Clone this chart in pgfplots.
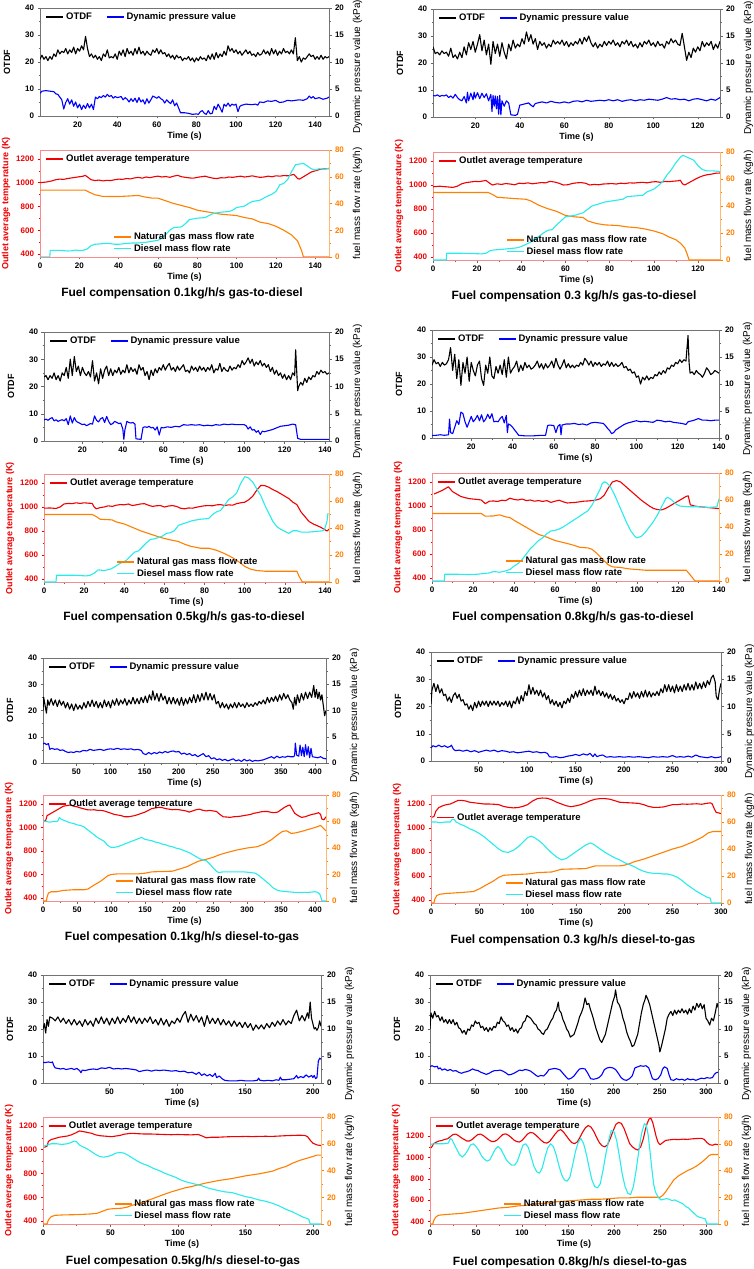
\documentclass[border=0pt]{standalone}
\usepackage{fontspec}
\setmainfont{Liberation Sans}
\usepackage{pgfplots}
\pgfplotsset{compat=1.18}

\definecolor{tred}{RGB}{240,0,0}
\definecolor{tor}{RGB}{255,128,0}
\definecolor{tcy}{RGB}{40,235,235}
\definecolor{tbl}{RGB}{0,0,255}

\pgfplotsset{
  every axis/.append style={
    scale only axis,
    scaled ticks=false,
    /pgf/number format/assume math mode=true,
    /pgf/number format/1000 sep={},
    tick label style={font=\bfseries\fontsize{8}{9}\selectfont},
    label style={font=\bfseries\fontsize{9}{10}\selectfont},
    axis line style={draw=black!55, line width=0.6pt},
    tick align=outside,
    major tick length=2.5pt,
    minor tick length=1.5pt,
    tick style={draw=black!60, line width=0.5pt},
    minor x tick num=1,
    minor y tick num=1,
    xlabel style={yshift=3pt},
    legend cell align=left,
    legend style={draw=none, fill=none, inner sep=1pt, row sep=-1pt,
      font=\bfseries\fontsize{9.5}{10}\selectfont},
    legend image code/.code={\draw[#1, line width=1.6pt] (0pt,0pt) -- (17pt,0pt);},
    every axis plot/.append style={line width=1.1pt, line join=round, mark=none},
  },
  topL/.style={ymin=0, ymax=40, ytick={0,10,...,40}, xtick pos=left, ytick pos=left,
    xlabel={Time (s)}, ylabel={OTDF}, ylabel shift=8pt},
  topR/.style={ymin=0, ymax=20, ytick={0,5,...,20}, axis y line*=right, axis x line=none,
    ylabel={Dynamic pressure value (kPa)}, ylabel near ticks, ylabel shift=2pt,
    ylabel style={xshift=-5pt},
    legend columns=2,
    legend style={at={(0.015,0.985)}, anchor=north west,
      /tikz/every even column/.append style={column sep=12pt}}},
  botL/.style={ymin=375, ymax=1275, ytick={400,600,...,1200}, xtick pos=left, ytick pos=left,
    xlabel={Time (s)}, ylabel={Outlet average temperature (K)}, ylabel shift=-1pt,
    y axis line style={draw=tred!45}, yticklabel style={text=tred},
    ylabel style={text=tred}, ytick style={draw=tred},
    legend style={at={(0.015,0.985)}, anchor=north west}},
  botR/.style={ymin=0, ymax=80, ytick={0,20,...,80}, axis y line*=right, axis x line=none,
    ylabel={fuel mass flow rate (kg/h)}, ylabel near ticks, ylabel shift=2pt,
    y axis line style={draw=tor!55}, yticklabel style={text=tor}, ytick style={draw=tor},
    legend style={at={(0.25,0.01)}, anchor=south west}},
}

\begin{document}
\begin{tikzpicture}
\useasboundingbox (0,0) rectangle (754pt,-1269pt);

% ================= A: 0.1 gas-to-diesel =================
\begin{axis}[topL, at={(40pt,-8pt)}, anchor=north west, width=289pt, height=108pt,
  xmin=1, xmax=147, xtick={20,40,...,140}]
\addplot[black] coordinates {(1,21)(2,22.5)(3,21)(4,22)(5,20.5)(6,22)(7,21)(8,23)(9,22)(10,24.5)(11,23)(12,24)(13,23.5)(14,25)(15,23)(16,24.5)(17,23.5)(18,25.5)(19,23)(20,25)(21,24)(22,26)(23,24.5)(24,29.5)(25,25)(26,22)(27,23)(28,21.5)(29,22.5)(30,21)(31,22)(32,20.5)(33,23)(34,22)(35,24.5)(36,21.5)(37,22)(38,21.5)(39,23)(40,21)(41,24)(42,22.5)(43,24.5)(44,22)(45,25)(46,23)(47,24)(48,22.5)(49,25)(50,23)(51,25.5)(52,23)(53,24)(54,22.5)(55,24)(56,23)(57,22.5)(58,24.5)(59,23.5)(60,25)(61,23)(62,24.5)(63,23)(64,23.5)(65,22)(66,23)(67,21.5)(68,22.5)(69,21)(70,22.5)(71,21.5)(72,22)(73,20.5)(74,21.5)(75,21)(76,22)(77,20.5)(78,21.5)(79,20)(80,21.5)(81,20.5)(82,22)(83,21)(84,21.5)(85,20.5)(86,22.5)(87,21)(88,23)(89,21)(90,23.5)(91,21.5)(92,23)(93,22)(94,24)(95,22.5)(96,26)(97,24)(98,25)(99,23.5)(100,24.5)(101,23)(102,24)(103,22.5)(104,23.5)(105,24.5)(106,23)(107,24)(108,22.5)(109,23)(110,22)(111,23.5)(112,22.5)(113,23)(114,24.5)(115,23)(116,24)(117,22.5)(118,25)(119,23)(120,24.5)(121,22.5)(122,24)(123,23)(124,25)(125,23.5)(126,24)(127,23)(128,24.5)(129,23)(130,29)(131,20.5)(132,22)(133,20)(134,21.5)(135,21)(136,22)(137,23)(138,22)(139,22.5)(140,21)(141,22)(142,21)(143,22.5)(144,21)(145,22)(146,21.5)(147,22)};
\end{axis}
\begin{axis}[topR, at={(40pt,-8pt)}, anchor=north west, width=289pt, height=108pt,
  xmin=1, xmax=147]
\addlegendimage{black}\addlegendentry{OTDF}
\addplot[tbl] coordinates {(1,4.2)(2,4.6)(4,4.7)(6,4.6)(8,4.5)(9,4.1)(10,4.0)(11,3.5)(12,3.0)(13,1.3)(14,2.5)(15,3.2)(16,2.2)(17,3.0)(18,1.8)(19,2.6)(20,1.5)(21,2.2)(22,1.2)(23,2.0)(24,1.4)(25,2.3)(26,1.5)(27,2.2)(28,1.2)(29,3.5)(30,3.2)(31,3.6)(32,3.4)(33,3.8)(34,3.5)(35,4.0)(36,3.6)(37,3.8)(38,3.3)(39,3.6)(40,3.4)(42,3.6)(43,3.0)(44,3.4)(45,3.1)(46,2.6)(47,3.2)(48,2.7)(49,3.3)(50,2.5)(51,3.4)(52,2.6)(53,3.0)(54,2.2)(55,3.2)(56,2.4)(57,3.0)(58,3.7)(59,3.5)(60,3.3)(61,3.6)(62,3.2)(63,3.0)(64,2.4)(65,3.0)(66,2.6)(67,2.3)(68,3.0)(69,1.9)(70,2.4)(71,1.5)(72,0.6)(74,0.6)(76,0.5)(78,0.3)(80,0.4)(81,0.3)(82,0.8)(83,1.0)(84,0.5)(85,0.3)(86,1.0)(87,0.4)(88,0.5)(89,1.8)(90,1.2)(91,2.2)(92,1.5)(93,0.7)(94,2.2)(95,1.8)(96,2.4)(97,1.8)(98,2.2)(99,2.0)(100,2.2)(101,0.8)(102,1.8)(103,2.0)(105,2.2)(108,2.1)(110,2.2)(111,2.0)(112,2.6)(114,2.5)(116,2.8)(118,2.7)(120,2.9)(122,2.5)(124,2.6)(126,2.9)(128,2.8)(130,2.9)(132,3.0)(134,2.9)(136,3.2)(137,3.7)(138,3.3)(139,3.6)(140,3.2)(142,3.4)(144,3.1)(146,3.3)(147,3.5)};
\addlegendentry{Dynamic pressure value}
\end{axis}
\begin{axis}[botL, at={(40pt,-150pt)}, anchor=north west, width=289pt, height=107pt,
  xmin=0, xmax=147, xtick={0,20,...,140}]
\addplot[tred] coordinates {(0,1000)(3,1005)(6,1015)(8,1025)(10,1030)(12,1028)(14,1035)(16,1040)(18,1045)(20,1050)(22,1055)(23,1062)(24,1050)(26,1025)(28,1018)(30,1022)(32,1015)(34,1020)(36,1018)(38,1025)(40,1030)(42,1028)(44,1035)(46,1032)(48,1040)(50,1045)(52,1038)(54,1048)(56,1042)(58,1050)(60,1055)(62,1048)(64,1052)(66,1045)(68,1055)(70,1062)(72,1050)(74,1045)(76,1040)(78,1038)(80,1045)(82,1050)(84,1055)(86,1045)(88,1038)(90,1035)(92,1042)(94,1040)(96,1048)(98,1045)(100,1050)(102,1055)(104,1048)(106,1052)(108,1058)(110,1050)(112,1045)(114,1048)(116,1055)(118,1050)(120,1058)(122,1055)(124,1060)(126,1058)(128,1065)(129,1070)(130,1055)(131,1035)(132,1030)(134,1050)(136,1070)(138,1090)(140,1100)(142,1110)(144,1115)(146,1118)(147,1120)};
\addlegendentry{Outlet average temperature}
\end{axis}
\begin{axis}[botR, at={(40pt,-150pt)}, anchor=north west, width=289pt, height=107pt,
  xmin=0, xmax=147]
\addplot[tor] coordinates {(0,50)(23,50)(25,48.5)(28,46.5)(32,45.3)(40,45.2)(45,45.6)(50,46)(53,45)(57,44)(60,44)(64,42)(68,40)(72,38.5)(76,37)(80,35)(84,34)(88,33)(92,32)(96,31.5)(100,31)(104,29.5)(108,28.5)(112,26)(116,25)(120,23)(124,20)(128,16.5)(131,12)(133,5)(134,0)(147,0)};
\addlegendentry{Natural gas mass flow rate}
\addplot[tcy] coordinates {(0,0)(5,0)(5.2,5)(10,5)(14,4.5)(16,4.6)(18,5.2)(20,4.8)(22,5)(24,6)(26,8.5)(28,9.5)(32,10)(35,10.2)(38,9.5)(40,9.5)(43,10)(47,10.5)(50,10.5)(54,11)(58,12)(60,12.5)(62,14)(64,17)(66,20)(68,22)(72,22.5)(74,25)(76,28)(80,29)(84,29.5)(86,31)(88,32.5)(92,33.5)(96,34)(98,35)(100,37)(104,38)(106,40)(108,41.5)(112,42.5)(115,45)(118,47)(120,49)(122,54)(124,55)(126,58)(128,64)(130,69)(132,69.5)(134,70)(136,68)(138,66)(140,65)(142,66)(144,65.5)(146,66)(147,66)};
\addlegendentry{Diesel mass flow rate}
\end{axis}
\node[font=\bfseries\fontsize{12}{14}\selectfont] at (182pt,-293pt) {Fuel compensation 0.1kg/h/s gas-to-diesel};

% ================= B: 0.3 gas-to-diesel =================
\begin{axis}[topL, at={(433pt,-9pt)}, anchor=north west, width=287pt, height=108pt,
  xmin=1, xmax=130, xtick={20,40,...,120}]
\addplot[black] coordinates {(1,26)(2,23.5)(3,24)(4,23)(5,24.5)(6,23.5)(7,24)(8,22.5)(9,25.5)(10,22)(11,23)(12,21.5)(13,24)(14,22)(15,26)(16,23)(17,27.5)(18,25)(19,28)(20,24)(21,27)(22,30.5)(23,24.5)(24,28.5)(25,23)(26,27)(27,19.5)(28,28)(29,23.5)(30,27)(31,22.5)(32,27.5)(33,24)(34,21.5)(35,27)(36,24.5)(37,28.5)(38,25.5)(39,27)(40,26)(41,29)(42,27)(43,31.5)(44,28)(45,30.5)(46,27)(47,29)(48,25)(49,28)(50,26.5)(51,27.5)(52,25.5)(53,27)(54,26)(55,28.5)(56,27)(57,28)(58,27)(59,28.5)(60,26.5)(61,28)(62,26)(63,27.5)(64,26.5)(65,28)(66,27)(67,29)(68,27)(69,29.5)(70,28)(71,30)(72,27.5)(73,26)(74,27.5)(75,25.5)(76,27)(77,26)(78,28)(79,26.5)(80,28)(81,27)(82,28.5)(83,26.5)(84,27.5)(85,26)(86,28)(87,27)(88,28.5)(89,26.5)(90,28)(91,26)(92,27)(93,25.5)(94,27.5)(95,26)(96,28)(97,27)(98,28.5)(99,26.5)(100,27.5)(101,26)(102,28)(103,26.5)(104,27)(105,25.5)(106,28)(107,27)(108,29)(109,27.5)(110,28.5)(111,27)(112,26.5)(113,31)(114,26)(115,21)(116,24)(117,22)(118,25.5)(119,24)(120,26)(121,24.5)(122,28)(123,26)(124,27.5)(125,26.5)(126,28)(127,25)(128,27)(129,25.5)(130,28)};
\end{axis}
\begin{axis}[topR, at={(433pt,-9pt)}, anchor=north west, width=287pt, height=108pt,
  xmin=1, xmax=130]
\addlegendimage{black}\addlegendentry{OTDF}
\addplot[tbl] coordinates {(1,4)(2,3.9)(3,4.1)(4,3.8)(5,4)(6,3.9)(7,4.1)(8,3.6)(9,3.9)(10,3.5)(11,4.2)(12,3.6)(13,3.2)(14,3.0)(15,3.8)(16,2.6)(16.5,4.6)(17,3.0)(18,4.4)(19,3.2)(19.5,4.6)(20,3.5)(21,4.5)(22,3.4)(23,4.4)(24,3.6)(25,4.3)(26,3.0)(27,4.2)(27.5,1.0)(28,4.0)(28.5,2.0)(29,3.9)(29.5,1.5)(30,3.8)(30.5,0.5)(31,4.0)(31.5,0.4)(32,3.0)(33,2.0)(34,3.0)(35,2.6)(36,0.4)(38,0.3)(39,0.5)(40,2.2)(42,2.4)(44,2.6)(45,2.2)(46,1.9)(47,2.5)(48,2.6)(50,2.8)(52,2.6)(54,2.9)(56,2.7)(58,2.6)(60,2.8)(62,2.6)(64,2.9)(66,3.0)(68,2.8)(70,3.1)(72,2.9)(74,3.0)(76,3.1)(78,3.0)(80,3.2)(82,3.0)(84,3.2)(86,2.9)(88,3.1)(90,3.2)(92,3.0)(94,3.2)(96,3.1)(98,3.3)(100,3.2)(102,3.1)(104,3.3)(106,3.6)(108,3.3)(110,3.4)(112,3.2)(114,3.3)(116,3.0)(118,3.3)(120,3.4)(122,3.2)(124,3.0)(126,3.3)(128,3.1)(130,3.6)};
\addlegendentry{Dynamic pressure value}
\end{axis}
\begin{axis}[botL, at={(433pt,-152pt)}, anchor=north west, width=287pt, height=108pt,
  xmin=0, xmax=130, xtick={0,20,...,120}]
\addplot[tred] coordinates {(0,985)(3,990)(6,985)(9,980)(11,990)(13,1010)(15,1020)(17,1025)(19,1030)(21,1028)(23,1035)(24,1038)(26,1010)(27,1000)(29,1010)(31,1005)(33,1012)(35,1008)(37,1002)(39,1015)(41,1012)(43,1018)(45,1010)(47,1015)(49,1020)(51,1018)(53,1030)(55,1025)(57,1015)(59,1000)(61,1002)(63,1012)(65,1018)(67,1020)(69,1015)(71,1000)(73,1005)(75,1002)(77,1008)(79,1010)(81,1012)(83,1008)(85,1015)(87,1012)(89,1018)(91,1016)(93,1020)(95,1022)(97,1018)(99,1025)(101,1028)(103,1022)(105,1030)(107,1028)(109,1032)(111,1035)(112,1040)(113,1010)(114,1000)(116,1020)(118,1040)(120,1060)(122,1075)(124,1085)(126,1090)(128,1098)(130,1100)};
\addlegendentry{Outlet average temperature}
\end{axis}
\begin{axis}[botR, at={(433pt,-152pt)}, anchor=north west, width=287pt, height=108pt,
  xmin=0, xmax=130]
\addplot[tor] coordinates {(0,50)(25,50)(27,48.5)(29,46.5)(33,46)(37,45.5)(42,45)(44,44)(48,40.5)(52,38)(56,36)(60,33)(64,32)(68,31.5)(70,29)(74,27)(78,26)(84,25.5)(88,24.5)(92,24)(96,23)(100,21.5)(104,19.5)(107,17)(110,15)(112,12.5)(114,9)(115,5)(116,0)(130,0)};
\addlegendentry{Natural gas mass flow rate}
\addplot[tcy] coordinates {(0,0)(6,0)(6.2,5)(12,5)(18,4.8)(22,4.5)(24,5)(26,7)(28,7.5)(32,8)(35,8.5)(38,9)(40,10)(42,11.5)(44,13)(46,15.5)(48,17.5)(50,20)(52,22)(54,22.5)(56,26)(58,29)(60,32)(62,32.5)(64,33)(66,34)(68,35)(70,37.5)(72,40)(75,41.5)(78,43)(82,44)(86,45)(88,47)(92,47.5)(95,48)(97,50.5)(100,52.5)(102,55)(104,58)(106,63)(108,67)(110,72)(112,76)(113,77.5)(114,77)(116,75.5)(118,74)(120,70)(122,67)(124,66)(127,66)(130,65.5)};
\addlegendentry{Diesel mass flow rate}
\end{axis}
\node[font=\bfseries\fontsize{12}{14}\selectfont] at (574pt,-296pt) {Fuel compensation 0.3 kg/h/s gas-to-diesel};

% ================= C: 0.5 gas-to-diesel =================
\begin{axis}[topL, at={(44pt,-332pt)}, anchor=north west, width=285pt, height=109pt,
  xmin=1, xmax=142, xtick={20,40,...,140}]
\addplot[black] coordinates {(1,23.5)(2,24)(3,22.5)(4,24)(5,23)(6,25)(7,22.5)(8,24)(9,22)(10,25)(11,24)(12,27)(13,23)(14,30)(15,24)(16,31)(17,25.5)(18,27.5)(19,24)(20,27)(21,25)(22,24)(23,25.5)(24,23.5)(25,29.5)(26,22)(27,25)(28,21)(29,26.5)(30,23)(31,26)(32,27.5)(33,24)(34,26.5)(35,24)(36,26)(37,25)(38,27)(39,24.5)(40,26)(41,25)(42,28)(43,25)(44,27)(45,25.5)(46,26.5)(47,24.5)(48,28)(49,26)(50,27)(51,24)(52,25.5)(53,22.5)(54,26)(55,24)(56,26.5)(57,25)(58,27)(59,26)(60,28)(61,26)(62,27.5)(63,28.5)(64,26)(65,27)(66,25.5)(67,27.5)(68,26)(69,27)(70,28)(71,25.5)(72,26)(73,25)(74,27.5)(75,26)(76,27)(77,25.5)(78,27.5)(79,26)(80,27)(81,25.5)(82,27)(83,26)(84,28)(85,25)(86,26.5)(87,26)(88,28.5)(89,25.5)(90,27)(91,26)(92,25.5)(93,27.5)(94,26)(95,27)(96,26.5)(97,28)(98,27)(99,29.5)(100,28)(101,29)(102,30.5)(103,28.5)(104,30)(105,27.5)(106,29)(107,28)(108,29.5)(109,27.5)(110,28.5)(111,27)(112,28)(113,25.5)(114,27)(115,24.5)(116,26)(117,24)(118,25)(119,23)(120,24.5)(121,22.5)(122,24)(123,22.5)(124,25)(125,24)(125.5,33.5)(126,26)(126.5,18.5)(127,20)(128,21.5)(129,20.5)(130,23)(131,21.5)(132,23.5)(133,22.5)(134,24)(135,23.5)(136,25.5)(137,24.5)(138,26)(139,25)(140,25.5)(141,24.5)(142,25)};
\end{axis}
\begin{axis}[topR, at={(44pt,-332pt)}, anchor=north west, width=285pt, height=109pt,
  xmin=1, xmax=142]
\addlegendimage{black}\addlegendentry{OTDF}
\addplot[tbl] coordinates {(1,3.9)(2,4)(3,3.8)(4,4.1)(5,4.3)(6,3.7)(7,3.9)(8,3.6)(9,3.8)(10,3.9)(11,3.7)(12,4.1)(13,3.0)(14,4.6)(15,3.3)(16,4.3)(17,3.6)(18,3.4)(19,3.2)(20,3.0)(21,3.1)(22,2.8)(23,3.0)(24,3.2)(25,3.1)(26,4.6)(27,3.8)(28,3.5)(29,4.1)(30,4.3)(31,3.4)(32,4.5)(33,3.6)(34,3.0)(35,3.2)(36,3.6)(37,3.4)(38,3.2)(39,3.3)(40,2.2)(40.5,0.3)(41,2.0)(42,3.6)(43,3.4)(44,3.3)(45,3.4)(46,3.1)(46.5,0.4)(49,0.3)(50,2.5)(51,2.6)(52,2.5)(53,2.7)(54,2.4)(55,2.5)(56,2.0)(57,2.6)(58,1.1)(59,2.5)(60,2.4)(62,2.6)(64,2.5)(66,2.7)(68,2.6)(70,3.0)(72,2.9)(74,3.0)(76,2.9)(78,3.0)(80,2.8)(82,2.9)(84,2.8)(86,3.0)(88,2.9)(90,3.1)(92,3.0)(94,3.1)(96,3.0)(98,3.0)(100,3.0)(101,2.8)(102,2.2)(103,2.6)(104,2.0)(105,2.1)(106,1.6)(107,1.9)(108,1.2)(109,1.8)(110,1.7)(112,1.9)(114,2.1)(116,2.4)(118,2.7)(120,2.8)(122,2.9)(124,3.1)(125.5,3.0)(126.5,0.5)(128,0.3)(132,0.3)(136,0.3)(142,0.3)};
\addlegendentry{Dynamic pressure value}
\end{axis}
\begin{axis}[botL, at={(44pt,-474pt)}, anchor=north west, width=285pt, height=108pt,
  xmin=0, xmax=142, xtick={0,20,...,140}]
\addplot[tred] coordinates {(0,990)(3,992)(6,988)(8,1000)(10,1025)(12,1030)(14,1028)(16,1035)(18,1030)(20,1035)(22,1032)(24,1030)(25,1000)(26,985)(28,995)(30,1000)(32,1010)(34,1005)(36,1015)(38,1020)(40,1018)(42,1025)(44,1012)(46,1018)(48,1025)(50,1028)(52,1015)(54,1005)(56,1010)(58,1012)(60,1000)(62,1008)(64,1012)(66,1005)(68,990)(70,985)(72,992)(74,990)(76,998)(78,1005)(80,1010)(82,1012)(84,1010)(86,1018)(88,1020)(90,1012)(92,1018)(94,1015)(96,1028)(98,1035)(100,1040)(102,1060)(104,1090)(106,1140)(108,1180)(110,1178)(112,1165)(114,1145)(116,1130)(118,1110)(120,1090)(122,1070)(124,1040)(126,1020)(127,990)(128,960)(130,920)(132,880)(134,860)(136,845)(138,830)(140,810)(141,800)(142,815)};
\addlegendentry{Outlet average temperature}
\end{axis}
\begin{axis}[botR, at={(44pt,-474pt)}, anchor=north west, width=285pt, height=108pt,
  xmin=0, xmax=142]
\addplot[tor] coordinates {(0,50)(24,50)(26,48.5)(28,46.5)(34,46)(36,44.5)(40,43)(44,40.5)(48,38)(52,36)(56,34)(58,33)(62,31.5)(67,30)(70,28)(73,26.5)(78,25)(82,25)(86,23.5)(90,21)(94,18)(98,14)(100,11.5)(103,9.5)(106,8.5)(110,8)(126,8)(127,4.5)(128.5,0.5)(129,0)(142,0)};
\addlegendentry{Natural gas mass flow rate}
\addplot[tcy] coordinates {(0,0)(6,0)(6.2,5)(10,5)(15,5)(18,4.8)(21,4.5)(23,5)(25,6.5)(27,9)(30,8.5)(33,9.5)(35,11)(37,13)(39,14.5)(41,16)(43,19)(45,22)(47,23)(49,26)(51,29)(53,31.5)(55,32)(57,33)(59,34)(61,36)(63,36.5)(65,38)(67,42)(69,43)(71,44)(74,45.5)(78,46.5)(82,47)(84,50)(86,52)(88,53)(90,57)(92,61)(94,63)(96,66)(98,73)(100,78)(102,77)(104,74)(106,69)(108,64)(110,57)(112,51)(114,45)(116,41)(118,39)(120,37.5)(122,36)(124,38)(126,38)(128,37)(132,37)(136,37.5)(139,38)(140,40)(141,45)(141.5,51)};
\addlegendentry{Diesel mass flow rate}
\end{axis}
\node[font=\bfseries\fontsize{12}{14}\selectfont] at (184pt,-617pt) {Fuel compensation 0.5kg/h/s gas-to-diesel};

% ================= D: 0.8 gas-to-diesel =================
\begin{axis}[topL, at={(432pt,-330pt)}, anchor=north west, width=287pt, height=108pt,
  xmin=1, xmax=140, xtick={20,40,...,140}]
\addplot[black] coordinates {(1,27)(2,29)(3,27.5)(4,28)(5,26.5)(6,28)(7,27)(8,27.5)(9,29)(10,33.5)(11,25)(12,31)(13,22)(14,29)(15,19.5)(16,28)(17,24)(18,30)(19,21)(20,28)(21,25)(22,23)(23,27)(24,28.5)(25,22)(26,19.5)(27,27)(28,24)(29,30)(30,23)(31,22)(32,26.5)(33,24)(34,27)(35,23.5)(36,29)(37,22.5)(38,30)(39,24)(40,25.5)(41,26.5)(42,28.5)(43,24.5)(44,27)(45,25)(46,28)(47,26)(48,27)(49,25.5)(50,26)(51,27)(52,28.5)(53,26)(54,27.5)(55,25.5)(56,27.5)(57,26)(58,27)(59,28.5)(60,26)(61,29.5)(62,27)(63,25.5)(64,27)(65,29)(66,26)(67,27.5)(68,26)(69,27)(70,26)(71,27)(72,26.5)(73,28)(74,27)(75,29.5)(76,28.5)(77,27)(78,28.5)(79,26.5)(80,28)(81,27)(82,28)(83,26.5)(84,27.5)(85,27)(86,28.5)(87,26.5)(88,28)(89,26.5)(90,27.5)(91,26.5)(92,27)(93,28)(94,26)(95,26.5)(96,25)(97,25.5)(98,24)(99,24.5)(100,22.5)(101,23)(102,20)(103,22.5)(104,21.5)(105,23)(106,21.5)(107,22.5)(108,22)(109,23.5)(110,23)(111,24.5)(112,23.5)(113,25)(114,24)(115,26)(116,25.5)(117,27)(118,26.5)(119,28)(120,27.5)(121,29)(122,28)(123,29)(124,28.5)(125,38)(125.5,28)(126,24)(127,24.5)(128,23.5)(129,25)(130,24)(131,23.5)(132,22.5)(133,24)(134,26)(135,25)(136,23.5)(137,24)(138,25)(139,24.5)(140,24)};
\end{axis}
\begin{axis}[topR, at={(432pt,-330pt)}, anchor=north west, width=287pt, height=108pt,
  xmin=1, xmax=140]
\addlegendimage{black}\addlegendentry{OTDF}
\addplot[tbl] coordinates {(1,0.5)(3,0.5)(5,0.6)(7,0.5)(9,0.6)(9.5,3.5)(10,1.0)(11,0.8)(12,2.0)(13,3.2)(14,2.5)(15,4.8)(16,4.5)(17,3.0)(18,2.0)(19,3.0)(20,4.0)(21,3.0)(22,3.5)(23,4.2)(24,3.2)(25,4.3)(26,3.0)(27,3.5)(28,4.4)(29,3.6)(30,4.5)(31,3.0)(32,3.1)(33,3.0)(34,3.6)(35,4.0)(36,2.8)(37,4.2)(37.5,1.0)(38,2.6)(39,2.4)(40,2.0)(41,1.5)(42,1.0)(43,0.5)(46,0.4)(50,0.4)(54,0.5)(56,0.5)(57,2.3)(58,2.4)(60,2.3)(61,1.0)(62,2.2)(63,2.5)(63.5,0.6)(64,2.4)(66,2.6)(68,2.6)(70,2.7)(72,2.5)(74,2.6)(76,2.4)(78,2.8)(80,2.9)(82,2.8)(84,2.7)(85,2.3)(86,1.8)(87,1.4)(88,0.8)(89,1.0)(90,1.5)(92,2.0)(94,2.5)(96,2.8)(98,3.0)(100,3.2)(102,3.0)(104,3.1)(106,3.0)(108,2.9)(110,3.3)(112,3.2)(114,3.0)(116,3.1)(118,2.9)(120,2.8)(122,2.7)(124,2.5)(125,3.0)(126,3.1)(128,3.3)(130,3.6)(132,3.3)(134,3.3)(136,3.2)(138,3.3)(140,3.3)};
\addlegendentry{Dynamic pressure value}
\end{axis}
\begin{axis}[botL, at={(432pt,-473pt)}, anchor=north west, width=287pt, height=108pt,
  xmin=0, xmax=140, xtick={0,20,...,140}]
\addplot[tred] coordinates {(1,1100)(3,1115)(5,1130)(7,1150)(8,1160)(9,1140)(10,1120)(12,1100)(14,1080)(16,1070)(18,1062)(20,1058)(22,1055)(24,1050)(25,1035)(26,1020)(28,1040)(30,1042)(32,1038)(34,1048)(36,1045)(38,1065)(40,1055)(42,1050)(44,1058)(46,1045)(48,1050)(50,1040)(52,1045)(54,1038)(56,1045)(58,1030)(60,1040)(62,1048)(64,1035)(66,1025)(68,1028)(70,1030)(72,1035)(74,1040)(76,1042)(78,1045)(80,1050)(82,1060)(84,1090)(86,1150)(88,1200)(90,1212)(92,1200)(94,1170)(96,1140)(98,1110)(100,1080)(102,1050)(104,1025)(106,1000)(108,980)(110,970)(112,968)(114,980)(116,1000)(118,1020)(120,1040)(122,1060)(124,1080)(125,1085)(126,1010)(128,1000)(130,995)(133,990)(136,985)(139,980)(140,978)};
\addlegendentry{Outlet average temperature}
\end{axis}
\begin{axis}[botR, at={(432pt,-473pt)}, anchor=north west, width=287pt, height=108pt,
  xmin=0, xmax=140]
\addplot[tor] coordinates {(0,50)(24,50)(26,48)(30,48.2)(33,49)(36,47.5)(38,47)(40,45)(44,41.5)(48,38)(52,34.5)(56,32.5)(60,30)(64,28.5)(68,27)(72,25)(76,24.5)(78,23.5)(80,21)(82,18)(84,15)(86,12)(88,10.5)(92,10)(96,9)(100,8.5)(104,8)(124,8)(126,4.5)(128,0.5)(128.5,0)(140,0)};
\addlegendentry{Natural gas mass flow rate}
\addplot[tcy] coordinates {(0,0)(6,0)(6.2,5)(12,5)(18,4.8)(22,5)(25,5.5)(28,6)(30,7)(33,6.5)(36,7.5)(38,8.5)(40,11)(42,13)(44,16)(46,20)(48,24)(50,27)(52,30)(54,32)(56,35)(58,37)(60,37.5)(62,38.5)(64,40)(66,42)(68,44)(70,46)(72,48)(74,50)(76,52)(78,56)(80,62)(82,68)(83,72)(84,73.5)(85,73)(87,70)(89,64)(91,57)(93,50)(95,43)(97,37)(99,33)(100,32)(102,33)(104,36)(106,40)(108,44)(110,49)(112,55)(114,61)(115,62)(117,60)(119,57)(121,55.5)(125,55)(130,55)(135,54.5)(139,55)(140,61)};
\addlegendentry{Diesel mass flow rate}
\end{axis}
\node[font=\bfseries\fontsize{12}{14}\selectfont] at (573pt,-617pt) {Fuel compensation 0.8kg/h/s gas-to-diesel};

% ================= E: 0.1 diesel-to-gas =================
\begin{axis}[topL, at={(43pt,-658pt)}, anchor=north west, width=283pt, height=105pt,
  xmin=1, xmax=416, xtick={50,100,...,400}]
\addplot[black] coordinates {(1,20)(2,25)(4,22)(6,19)(8,24)(10,22)(13,24.5)(16,22)(19,24)(22,21.5)(25,24)(28,22)(31,23.5)(34,21)(37,23)(40,20.5)(43,22.5)(46,20)(49,22.5)(52,20.5)(55,22)(58,20.5)(61,23)(64,21)(67,23.5)(70,21.5)(73,24)(76,21.5)(79,23.5)(82,21)(85,23)(88,21)(91,24)(94,21.5)(97,23.5)(100,21)(103,24)(106,22)(109,24.5)(112,22)(115,24)(118,22.5)(121,24.5)(124,22)(127,24)(130,22.5)(133,25)(136,22.5)(139,24.5)(142,22.5)(145,25)(148,23)(151,25.5)(154,23)(157,26)(160,24)(162,27.5)(165,24)(168,26.5)(171,23.5)(174,26.5)(177,24)(180,25.5)(183,22.5)(186,25)(189,22.5)(192,25)(195,22.5)(198,24.5)(201,22)(204,25)(207,22)(210,24.5)(213,22.5)(216,25)(219,23)(222,26)(225,23)(228,26)(231,23.5)(234,26.5)(237,24)(240,27)(243,24)(246,26.5)(249,24)(252,26)(255,22.5)(258,23.5)(261,21)(264,23)(267,21)(270,22.5)(273,20.5)(276,22.5)(279,21)(282,23)(285,21)(288,23)(291,21.5)(294,22.5)(297,21)(300,23)(303,21.5)(306,22.5)(309,21.5)(312,23)(315,22)(318,23.5)(321,22.5)(324,24)(327,22.5)(330,25)(333,23)(336,25)(339,23.5)(342,25.5)(345,23.5)(348,26)(351,24)(354,26.5)(357,24.5)(360,26)(363,24)(366,23)(368,20.5)(370,25)(372,22)(374,26)(377,23)(380,26.5)(383,24)(386,27)(389,24.5)(392,27)(395,25)(398,29.5)(400,25)(402,28)(404,24.5)(406,27)(408,24)(410,26)(412,22)(414,18)(416,20)};
\end{axis}
\begin{axis}[topR, at={(43pt,-658pt)}, anchor=north west, width=283pt, height=105pt,
  xmin=1, xmax=416]
\addlegendimage{black}\addlegendentry{OTDF}
\addplot[tbl] coordinates {(1,3.6)(3,3.8)(6,3.5)(9,3.7)(11,2.6)(14,2.8)(18,2.6)(22,2.7)(26,2.4)(30,2.5)(34,2.2)(38,2.0)(42,2.1)(46,2.0)(50,2.2)(55,2.1)(60,2.4)(65,2.3)(70,2.6)(75,2.4)(80,2.5)(85,2.6)(90,2.4)(95,2.6)(100,2.7)(105,2.6)(110,2.8)(115,2.6)(120,2.7)(125,2.6)(130,2.7)(135,2.5)(140,2.6)(145,2.4)(148,1.8)(152,1.6)(156,2.0)(160,1.7)(164,2.0)(168,1.8)(172,2.1)(176,1.9)(180,2.2)(184,2.0)(188,2.2)(192,2.3)(196,2.1)(200,2.2)(204,1.7)(208,1.9)(212,1.6)(216,1.8)(220,1.4)(224,1.6)(228,1.2)(232,1.5)(236,1.8)(240,1.2)(244,1.4)(248,0.8)(252,1.0)(256,0.6)(260,0.8)(264,0.5)(268,0.7)(272,0.4)(276,0.6)(280,0.8)(284,0.4)(288,0.6)(292,0.3)(296,0.7)(300,0.4)(304,0.6)(308,0.3)(312,0.5)(316,0.4)(320,0.5)(324,0.6)(328,0.8)(332,1.0)(336,1.2)(340,0.9)(344,1.3)(348,1.0)(352,1.2)(356,1.1)(360,1.3)(364,1.2)(368,1.2)(370,1.4)(371,3.8)(373,1.5)(376,1.3)(378,3.4)(380,1.4)(382,3.0)(384,1.2)(386,3.5)(388,1.5)(390,3.1)(392,1.0)(394,2.8)(396,1.2)(400,1.1)(404,1.0)(408,1.2)(412,0.9)(416,0.8)};
\addlegendentry{Dynamic pressure value}
\end{axis}
\begin{axis}[botL, at={(43pt,-795pt)}, anchor=north west, width=283pt, height=106pt,
  xmin=0, xmax=416, xtick={0,50,...,400}]
\addplot[tred] coordinates {(1,1050)(4,1060)(6,1100)(9,1110)(12,1120)(15,1130)(18,1140)(21,1150)(24,1160)(27,1170)(30,1180)(35,1185)(40,1190)(45,1180)(50,1175)(55,1165)(60,1158)(65,1150)(70,1148)(75,1150)(80,1145)(85,1145)(90,1140)(95,1130)(100,1120)(105,1110)(110,1105)(115,1100)(120,1090)(125,1090)(130,1095)(135,1100)(140,1110)(145,1120)(150,1130)(155,1145)(160,1160)(165,1165)(170,1170)(175,1168)(180,1160)(185,1155)(190,1150)(195,1152)(200,1150)(205,1145)(210,1140)(215,1130)(220,1140)(225,1150)(230,1155)(235,1145)(240,1140)(245,1145)(250,1140)(255,1135)(260,1110)(265,1090)(270,1088)(275,1085)(280,1090)(285,1092)(290,1095)(295,1100)(300,1105)(305,1110)(310,1120)(315,1125)(320,1132)(325,1135)(330,1135)(335,1128)(340,1125)(345,1130)(350,1150)(355,1170)(360,1185)(363,1190)(366,1160)(370,1120)(375,1100)(380,1085)(385,1090)(390,1100)(395,1110)(400,1115)(405,1125)(408,1110)(410,1070)(413,1065)(416,1090)};
\addlegendentry{Outlet average temperature}
\end{axis}
\begin{axis}[botR, at={(43pt,-795pt)}, anchor=north west, width=283pt, height=106pt,
  xmin=0, xmax=416]
\addplot[tor] coordinates {(0,0)(5,0)(6,3)(8,6)(12,7)(20,7)(30,8)(45,8.5)(60,8.5)(66,9)(75,12)(85,15)(95,19)(100,20)(110,20.5)(140,20.5)(150,21)(160,22)(190,22.5)(200,24)(212,26)(220,28)(228,30)(240,31.5)(250,33)(260,35)(270,36.5)(285,38.5)(300,40)(315,41)(325,43)(335,46)(345,50)(352,52.5)(358,53)(365,51)(372,51.5)(380,52.5)(390,54)(400,55.5)(408,57)(412,55)(416,53)};
\addlegendentry{Natural gas mass flow rate}
\addplot[tcy] coordinates {(0,60)(5,60)(10,59.5)(15,60)(20,60)(22,60.5)(24,63)(26,62)(30,61)(35,60)(40,59)(45,58.5)(50,57.5)(55,57)(60,56)(65,54)(70,52)(75,50)(80,48)(85,46.5)(90,45)(95,42)(100,40.5)(105,40.5)(110,41)(115,42)(120,43)(125,44)(130,45)(135,46)(140,47)(145,48)(150,46.5)(155,46)(160,45.5)(165,44.5)(170,44)(175,43)(180,42.5)(185,41.5)(190,41)(195,40)(200,39.5)(205,38.5)(210,37.5)(215,36.5)(220,35)(225,33.5)(230,32)(235,31)(240,30.5)(245,28)(250,25)(255,22.5)(258,21.5)(265,22)(275,22)(285,22)(295,22)(305,21.5)(312,21)(318,19)(325,16)(332,13)(338,10)(345,8)(350,7.5)(360,7)(370,6.5)(380,6.5)(390,6.5)(400,7)(404,6.5)(407,5)(409,2)(410,0)(416,0)};
\addlegendentry{Diesel mass flow rate}
\end{axis}
\node[font=\bfseries\fontsize{12}{14}\selectfont] at (182pt,-937pt) {Fuel compesation 0.1kg/h/s diesel-to-gas};

% ================= F: 0.3 diesel-to-gas =================
\begin{axis}[topL, at={(431pt,-652pt)}, anchor=north west, width=290pt, height=109pt,
  xmin=1, xmax=300, xtick={50,100,...,300}]
\addplot[black] coordinates {(1,21)(2,26)(4,28.5)(6,25.5)(8,28)(10,25)(12,26.5)(14,24)(16,24.5)(18,22)(20,23.5)(22,21.5)(24,24)(26,25)(28,23)(30,24.5)(32,22)(34,22.5)(36,20.5)(38,21)(40,19)(42,20.5)(44,18.5)(46,21.5)(48,19.5)(50,22)(52,20)(54,22)(56,20.5)(58,22)(60,20)(62,22)(64,20.5)(66,22)(68,20.5)(70,22)(72,20)(74,21.5)(76,20.5)(78,22)(80,20)(82,22)(84,19.5)(86,22)(88,21)(90,23.5)(92,21)(94,24)(96,22)(98,25.5)(100,24)(102,28)(104,24.5)(106,27)(108,24.5)(110,26)(112,24)(114,26)(116,23.5)(118,25)(120,22.5)(122,24)(124,21)(126,22.5)(128,20.5)(130,22)(132,20)(134,21.5)(136,19.5)(138,22)(140,21)(142,23)(144,21.5)(146,24.5)(148,23)(150,25.5)(152,23.5)(154,26)(156,24)(158,26.5)(160,24)(162,26)(164,24.5)(166,26)(168,24)(170,27.5)(172,24.5)(174,26)(176,24)(178,25.5)(180,23.5)(182,25)(184,23)(186,24.5)(188,22.5)(190,24)(192,22)(194,23)(196,21.5)(198,22.5)(200,21)(202,23)(204,22.5)(206,25)(208,23)(210,25.5)(212,23.5)(214,25)(216,23)(218,25.5)(220,23.5)(222,26)(224,23.5)(226,25.5)(228,23.5)(230,25)(232,24)(234,25.5)(236,24)(238,26.5)(240,25)(242,28)(244,25.5)(246,28)(248,25.5)(250,27.5)(252,25)(254,28)(256,25.5)(258,27.5)(260,25.5)(262,28)(264,26)(266,28.5)(268,26)(270,28)(272,26)(274,29)(276,26.5)(278,28.5)(280,26.5)(282,29)(284,27)(286,29.5)(288,28)(290,30.5)(292,31.5)(294,29)(295,24)(296,23)(297,22.5)(298,25)(299,27)(300,28.5)};
\end{axis}
\begin{axis}[topR, at={(431pt,-652pt)}, anchor=north west, width=290pt, height=109pt,
  xmin=1, xmax=300]
\addlegendimage{black}\addlegendentry{OTDF}
\addplot[tbl] coordinates {(1,2.4)(3,2.8)(6,2.6)(9,2.9)(12,2.6)(15,2.8)(18,2.5)(21,2.7)(22,2.9)(24,2.2)(26,1.9)(30,2.0)(34,1.8)(38,2.0)(42,1.7)(46,1.9)(50,1.6)(54,1.8)(58,2.0)(62,1.8)(66,2.0)(70,1.7)(74,1.9)(78,1.8)(82,1.6)(86,1.7)(90,1.5)(94,1.6)(98,1.7)(102,1.8)(106,1.6)(110,1.7)(114,1.5)(118,1.6)(121,1.4)(123,0.8)(126,0.7)(130,0.8)(134,0.6)(138,0.7)(142,0.9)(146,1.0)(150,1.2)(154,1.0)(158,1.3)(162,1.1)(165,1.4)(168,0.8)(170,1.3)(172,0.8)(175,1.0)(178,1.1)(182,0.7)(186,0.8)(190,0.7)(195,0.8)(200,0.7)(205,0.8)(210,0.7)(215,0.8)(220,0.7)(225,0.6)(230,0.8)(235,0.7)(240,0.8)(245,0.7)(250,1.0)(254,0.7)(258,0.8)(262,0.7)(266,0.9)(270,0.7)(274,1.1)(278,0.8)(282,0.7)(286,0.6)(290,0.8)(294,0.6)(298,0.7)(300,0.8)};
\addlegendentry{Dynamic pressure value}
\end{axis}
\begin{axis}[botL, at={(431pt,-795pt)}, anchor=north west, width=290pt, height=108pt,
  xmin=0, xmax=300, xtick={0,50,...,300}, legend style={at={(0.015,0.86)}}]
\addplot[tred] coordinates {(1,1090)(3,1095)(5,1140)(8,1170)(12,1185)(16,1195)(20,1200)(24,1215)(28,1230)(32,1230)(36,1225)(40,1215)(45,1210)(50,1205)(55,1200)(60,1200)(65,1198)(70,1195)(75,1180)(80,1172)(85,1168)(90,1170)(95,1180)(100,1195)(105,1225)(110,1245)(115,1250)(120,1248)(125,1235)(130,1215)(135,1200)(140,1185)(145,1178)(150,1185)(155,1195)(160,1210)(165,1228)(170,1240)(175,1245)(180,1245)(185,1240)(190,1228)(195,1215)(200,1212)(205,1210)(210,1208)(215,1205)(220,1195)(225,1180)(230,1172)(235,1172)(240,1175)(245,1185)(250,1195)(255,1195)(260,1200)(265,1198)(270,1200)(275,1202)(280,1198)(285,1205)(289,1210)(291,1200)(293,1160)(295,1130)(298,1125)(300,1120)};
\addlegendentry{Outlet average temperature}
\end{axis}
\begin{axis}[botR, at={(431pt,-795pt)}, anchor=north west, width=290pt, height=108pt,
  xmin=0, xmax=300]
\addplot[tor] coordinates {(0,0)(3,0)(4,3)(6,5.5)(9,6.5)(15,7)(25,7.5)(35,8)(44,8.5)(50,10.5)(55,12.5)(60,14.5)(65,16.5)(70,19)(75,20.5)(85,21)(100,21.5)(105,22)(110,22.5)(125,23)(130,24)(135,25)(160,25.5)(165,26.5)(170,27.5)(195,27.5)(200,28)(205,29)(210,30.5)(220,32.5)(230,35)(240,37.5)(250,40)(260,42)(270,45)(280,48.5)(287,52)(292,53)(300,53)};
\addlegendentry{Natural gas mass flow rate}
\addplot[tcy] coordinates {(0,60)(5,60)(10,59.5)(15,60)(20,60)(22,62)(24,62)(26,60)(30,58.5)(35,57)(40,55)(45,53.5)(50,51.5)(55,49)(60,46)(65,43)(70,40)(75,38)(80,37.5)(85,39)(90,41.5)(95,45)(100,48.5)(104,49.5)(108,48)(112,46)(116,43.5)(120,40.5)(125,37)(130,34)(135,32)(140,33)(145,35.5)(150,38)(155,40.5)(160,43)(165,44.5)(168,43.5)(172,41.5)(176,39.5)(180,37.5)(185,35.5)(190,33.5)(195,32)(200,30)(205,28.5)(210,27)(215,25)(220,23.5)(225,22.5)(230,22)(235,22)(240,21.5)(245,21.5)(250,20.5)(255,19)(260,16.5)(265,13.5)(270,11)(275,8.5)(280,6.5)(285,4.5)(289,3.5)(290,0)(300,0)};
\addlegendentry{Diesel mass flow rate}
\end{axis}
\node[font=\bfseries\fontsize{12}{14}\selectfont] at (573pt,-940pt) {Fuel compensation 0.3 kg/h/s diesel-to-gas};

% ================= G: 0.5 diesel-to-gas =================
\begin{axis}[topL, at={(43pt,-975pt)}, anchor=north west, width=278pt, height=108pt,
  xmin=1, xmax=206, xtick={50,100,...,200}]
\addplot[black] coordinates {(1,20)(2,22)(3,18.5)(4,23.5)(5,21)(6,24.5)(8,24)(10,23)(12,24.5)(14,22.5)(16,24)(18,22)(20,23.5)(22,21.5)(24,23.5)(26,21.5)(28,23)(30,21)(32,23.5)(34,21.5)(36,23)(38,21)(40,24)(42,22)(44,24.5)(46,22)(48,24)(50,21.5)(52,24)(54,22)(56,24.5)(58,22)(60,24)(62,22.5)(64,25)(66,22.5)(68,24.5)(70,22)(72,24)(74,22)(76,24)(78,22.5)(80,24.5)(82,22)(84,23.5)(86,21.5)(88,24)(90,21.5)(92,23.5)(94,21)(96,23)(98,22)(100,24)(102,22.5)(104,25)(106,26.5)(108,22.5)(110,25.5)(112,23)(114,25)(116,22.5)(118,24.5)(120,21)(122,25)(124,22)(126,24)(128,22)(130,24)(132,21.5)(134,23.5)(136,21.5)(138,23)(140,21)(142,23)(144,21)(146,22.5)(148,20.5)(150,22.5)(152,20.5)(154,22)(156,19.5)(158,21.5)(160,20)(162,21.5)(164,20)(166,22)(168,20.5)(170,22.5)(172,21)(174,23)(176,21.5)(178,23.5)(180,21.5)(182,23)(184,22)(186,25)(188,27)(190,23)(192,25)(194,23)(196,26)(197,24)(198,30)(199,24)(200,22)(201,20)(202,20.5)(203,19.5)(204,20.5)(205,23)(206,21)};
\end{axis}
\begin{axis}[topR, at={(43pt,-975pt)}, anchor=north west, width=278pt, height=108pt,
  xmin=1, xmax=206]
\addlegendimage{black}\addlegendentry{OTDF}
\addplot[tbl] coordinates {(1,3.8)(3,3.8)(5,3.9)(7,3.8)(8,3.9)(9,3.2)(10,2.8)(12,2.7)(14,2.6)(16,2.7)(18,2.5)(20,2.6)(22,2.7)(24,2.5)(26,2.7)(28,2.3)(29,1.9)(30,2.4)(32,2.3)(35,2.5)(38,2.6)(41,2.5)(44,2.8)(47,2.7)(50,2.9)(53,2.6)(56,2.7)(59,2.6)(62,2.7)(65,2.6)(68,2.5)(70,2.4)(72,2.1)(75,2.3)(78,2.4)(81,2.2)(84,2.4)(87,2.3)(90,2.4)(93,2.3)(96,2.2)(99,2.3)(102,2.1)(105,2.2)(108,1.9)(111,2.0)(114,1.6)(116,2.0)(118,1.4)(120,1.7)(122,1.3)(124,1.6)(126,1.2)(128,1.8)(129,1.0)(131,1.3)(133,0.8)(135,0.5)(138,0.4)(141,0.4)(144,0.4)(147,0.5)(150,0.4)(153,0.4)(156,0.4)(159,0.5)(160,0.9)(161,0.5)(164,0.4)(167,0.5)(170,0.4)(173,0.6)(175,0.5)(176,1.1)(177,0.6)(180,0.6)(183,0.7)(186,0.8)(188,1.4)(189,0.9)(191,1.2)(193,1.0)(195,1.5)(197,1.1)(199,1.4)(200,1.0)(201,1.4)(202,0.8)(203,1.0)(204,4.0)(205,4.6)(206,4.4)};
\addlegendentry{Dynamic pressure value}
\end{axis}
\begin{axis}[botL, at={(43pt,-1117pt)}, anchor=north west, width=278pt, height=107pt,
  xmin=0, xmax=206, xtick={0,50,...,200}]
\addplot[tred] coordinates {(1,1020)(3,1030)(4,1070)(6,1085)(9,1095)(12,1105)(15,1110)(18,1115)(21,1125)(24,1140)(27,1158)(30,1152)(33,1145)(36,1138)(39,1125)(42,1118)(45,1115)(48,1112)(51,1110)(54,1115)(57,1120)(60,1130)(63,1135)(66,1138)(70,1135)(75,1132)(80,1132)(85,1130)(90,1128)(95,1126)(100,1128)(105,1126)(110,1125)(115,1128)(118,1115)(121,1100)(125,1105)(130,1105)(135,1108)(140,1110)(145,1110)(150,1112)(155,1110)(160,1112)(165,1113)(170,1112)(175,1115)(180,1118)(185,1120)(190,1122)(194,1120)(196,1110)(198,1080)(200,1055)(203,1040)(206,1035)};
\addlegendentry{Outlet average temperature}
\end{axis}
\begin{axis}[botR, at={(43pt,-1117pt)}, anchor=north west, width=278pt, height=107pt,
  xmin=0, xmax=206]
\addplot[tor] coordinates {(0,0)(3,0)(4,3)(6,5.5)(9,6.5)(15,6.8)(25,7)(35,7.5)(40,8)(44,9.5)(48,11)(52,11.5)(58,11.8)(62,12.5)(66,14)(72,15.5)(80,18.5)(88,21.5)(95,24)(100,25.5)(105,27)(110,28)(120,30.5)(130,32.5)(140,34)(150,36)(160,37.5)(170,39.5)(175,41.5)(180,43)(185,45.5)(190,47.5)(195,49)(200,50.5)(203,51.5)(206,51.5)};
\addlegendentry{Natural gas mass flow rate}
\addplot[tcy] coordinates {(0,58)(3,59)(6,60)(10,60)(14,59.5)(18,60)(21,61)(23,62)(25,61.5)(27,59)(30,57.5)(33,56)(36,54)(39,52)(42,50.5)(45,50)(48,50.5)(51,51.5)(54,53)(57,53.5)(60,53)(63,51.5)(66,49.5)(70,47)(74,45)(78,43.5)(82,41.5)(86,40)(90,38)(94,36.5)(98,35)(102,33)(106,31.5)(110,30.5)(114,29.5)(118,28.5)(122,27)(126,26)(130,25)(135,24)(140,23.5)(145,22)(150,20.5)(155,19.5)(160,18)(165,17)(170,15.5)(175,13.5)(180,11)(185,9)(190,6.5)(193,5)(196,4)(197,3.5)(198,0)(206,0)};
\addlegendentry{Diesel mass flow rate}
\end{axis}
\node[font=\bfseries\fontsize{12}{14}\selectfont] at (183pt,-1261pt) {Fuel compesation 0.5kg/h/s diesel-to-gas};

% ================= H: 0.8 diesel-to-gas =================
\begin{axis}[topL, at={(430pt,-975pt)}, anchor=north west, width=288pt, height=108pt,
  xmin=1, xmax=313, xtick={50,100,...,300}]
\addplot[black] coordinates {(1,20)(2,26)(4,24)(6,26.5)(8,24.5)(10,25)(12,23)(14,24.5)(16,22.5)(18,23.5)(20,22)(22,23.5)(24,22)(26,23.5)(28,21.5)(30,22.5)(32,20.5)(34,20)(36,18.5)(38,19.5)(40,18)(42,20)(44,19.5)(46,21.5)(48,21)(50,23)(52,22)(54,22.5)(56,20.5)(58,21)(60,19.5)(62,20.5)(64,19)(66,20.5)(68,19.5)(70,21)(72,20.5)(74,22.5)(76,22)(78,24.5)(80,23)(82,22.5)(84,21)(86,21.5)(88,19.5)(90,20.5)(92,19)(94,20)(96,18.5)(98,20)(100,20.5)(102,22.5)(104,23)(106,25)(108,24.5)(110,24)(112,23)(114,22)(116,21.5)(118,20)(120,19.5)(122,18.5)(124,18)(126,19.5)(128,20)(130,21.5)(132,23)(134,24)(136,26)(138,27)(140,30)(141,27)(143,26)(145,23.5)(147,22)(149,20)(151,19)(153,17)(155,17.5)(157,18)(159,20)(161,22)(163,24.5)(165,26)(167,28)(169,31.5)(171,29)(173,29.5)(175,27)(177,25)(179,22.5)(181,20)(183,18)(185,16)(187,15)(189,16.5)(191,18)(193,21)(195,24)(197,27)(199,30)(201,32)(202,34.5)(204,30)(206,29)(208,27)(210,24)(212,22)(214,19)(216,17)(218,15.5)(220,13.5)(222,14)(224,16)(226,18)(228,22)(230,26)(232,29)(234,31)(235,32.5)(237,31)(239,29)(241,26)(243,23)(245,20)(247,17)(249,14)(250,11.5)(252,14)(254,17)(256,20)(258,24)(260,25.5)(262,26.5)(264,25)(266,27)(268,25.5)(270,27)(272,26)(274,27.5)(276,26)(278,27)(280,25.5)(282,27.5)(284,26)(286,28.5)(288,27)(290,29.5)(292,28)(294,29.5)(296,27.5)(298,29)(300,24)(302,23)(304,21.5)(306,24)(308,23)(310,26)(312,29.5)(313,28)};
\end{axis}
\begin{axis}[topR, at={(430pt,-975pt)}, anchor=north west, width=288pt, height=108pt,
  xmin=1, xmax=313]
\addlegendimage{black}\addlegendentry{OTDF}
\addplot[tbl] coordinates {(1,3.0)(3,3.2)(6,3.0)(9,3.1)(10,2.6)(12,2.8)(14,2.4)(17,2.6)(20,2.3)(23,2.5)(26,2.2)(29,2.3)(32,2.0)(35,1.8)(38,2.0)(41,2.1)(44,2.3)(47,2.6)(50,2.4)(53,2.3)(56,2.0)(59,1.8)(62,1.6)(65,1.8)(68,2.1)(71,2.3)(74,2.3)(77,2.4)(80,2.2)(83,1.9)(86,1.5)(89,1.6)(92,1.8)(95,2.1)(98,2.4)(101,2.3)(104,2.5)(107,2.4)(110,2.2)(113,1.8)(116,1.4)(118,1.2)(121,1.4)(124,1.3)(127,1.8)(130,2.5)(133,2.6)(136,2.7)(139,2.6)(142,2.4)(145,1.8)(148,1.2)(151,0.7)(154,0.9)(157,1.3)(160,2.0)(163,2.6)(166,2.7)(169,2.6)(172,1.8)(175,0.8)(178,0.7)(181,0.8)(184,1.0)(187,1.5)(190,2.5)(193,2.8)(196,2.9)(199,2.8)(202,2.5)(205,1.8)(208,1.0)(211,0.6)(214,0.5)(217,0.8)(220,1.3)(223,2.8)(226,3.0)(229,3.2)(232,3.1)(235,3.2)(238,2.8)(240,1.8)(242,0.8)(245,0.6)(248,0.8)(251,1.5)(253,2.6)(255,3.0)(258,2.7)(260,1.5)(262,0.6)(265,0.5)(268,0.8)(271,0.6)(274,0.7)(277,0.5)(280,0.8)(283,0.6)(286,0.7)(289,0.5)(292,0.7)(295,0.9)(298,0.8)(301,1.0)(304,0.9)(307,1.0)(309,1.6)(311,1.9)(313,2.0)};
\addlegendentry{Dynamic pressure value}
\end{axis}
\begin{axis}[botL, at={(430pt,-1117pt)}, anchor=north west, width=288pt, height=107pt,
  xmin=0, xmax=313, xtick={0,50,...,300}, ymin=375, ymax=1380]
\addplot[tred] coordinates {(1,1090)(2,1100)(4,1130)(7,1145)(10,1155)(13,1160)(16,1170)(19,1175)(22,1195)(25,1215)(28,1220)(31,1205)(34,1185)(37,1170)(40,1155)(43,1155)(46,1170)(49,1195)(52,1215)(55,1220)(58,1205)(61,1185)(64,1165)(67,1150)(70,1150)(73,1165)(76,1190)(79,1215)(82,1222)(85,1210)(88,1190)(91,1165)(94,1150)(97,1145)(100,1160)(103,1190)(106,1220)(109,1235)(112,1230)(115,1210)(118,1185)(121,1160)(124,1140)(127,1135)(130,1150)(133,1185)(136,1220)(139,1250)(142,1262)(145,1240)(148,1205)(151,1170)(154,1140)(157,1130)(160,1145)(163,1190)(166,1240)(169,1280)(172,1300)(175,1285)(178,1245)(181,1190)(184,1140)(187,1110)(190,1100)(193,1120)(196,1180)(199,1250)(202,1310)(205,1330)(208,1320)(211,1270)(214,1200)(217,1130)(220,1100)(223,1080)(226,1070)(229,1100)(232,1180)(234,1260)(236,1320)(238,1360)(240,1370)(242,1330)(244,1260)(246,1190)(248,1140)(250,1120)(253,1140)(256,1160)(260,1165)(265,1170)(270,1168)(275,1172)(280,1170)(285,1175)(290,1178)(295,1180)(298,1170)(301,1140)(304,1120)(307,1115)(310,1125)(313,1120)};
\addlegendentry{Outlet average temperature}
\end{axis}
\begin{axis}[botR, at={(430pt,-1117pt)}, anchor=north west, width=288pt, height=107pt,
  xmin=0, xmax=313]
\addplot[tor] coordinates {(0,0)(3,0)(4,2.5)(6,5)(9,6.5)(15,7)(25,7.5)(35,8)(45,9)(55,10)(65,11)(75,12)(85,12.5)(95,13.5)(105,14)(115,15)(125,15.5)(135,16.5)(145,17)(155,17.5)(165,18)(175,18.5)(185,18.5)(195,19)(205,19.5)(215,19.5)(225,20)(235,20)(245,20)(250,20)(253,21.5)(256,24)(260,28)(265,33)(270,36)(275,38)(280,40)(285,41.5)(290,43.5)(295,46)(300,49)(303,51)(306,52)(310,52)(313,52)};
\addlegendentry{Natural gas mass flow rate}
\addplot[tcy] coordinates {(0,59.5)(5,60)(10,60)(15,60)(20,60.5)(22,64)(24,63)(26,60)(29,56)(32,52)(35,50)(38,52)(41,55)(44,59)(47,60)(50,58)(53,55)(56,51)(59,48.5)(62,47)(65,48)(68,52)(71,56)(74,58)(77,56)(80,52)(83,48)(86,45.5)(89,44)(92,44)(95,47)(98,53)(101,59)(104,60)(107,57)(110,50)(113,43)(116,39)(119,38)(122,42)(125,50)(128,57)(131,60)(134,58)(137,52)(140,44)(143,37)(146,33)(149,32)(152,35)(155,44)(158,54)(161,61)(164,64)(167,60)(170,52)(173,42)(176,33)(179,28)(182,27)(185,30)(188,40)(191,52)(194,62)(197,70)(200,69)(203,62)(206,50)(209,37)(212,28)(215,23)(218,22)(221,28)(224,40)(227,55)(230,68)(233,75)(235,74)(237,67)(239,55)(241,42)(243,30)(245,24)(248,20)(251,18)(254,18.5)(257,19)(260,18.5)(263,17.5)(266,18)(269,17)(272,16)(275,15)(278,13)(281,12)(284,10)(287,8)(290,6)(293,5)(296,4.5)(299,4)(300,2)(301,0)(313,0)};
\addlegendentry{Diesel mass flow rate}
\end{axis}
\node[font=\bfseries\fontsize{12}{14}\selectfont] at (570pt,-1262pt) {Fuel compesation 0.8kg/h/s diesel-to-gas};

\end{tikzpicture}
\end{document}
